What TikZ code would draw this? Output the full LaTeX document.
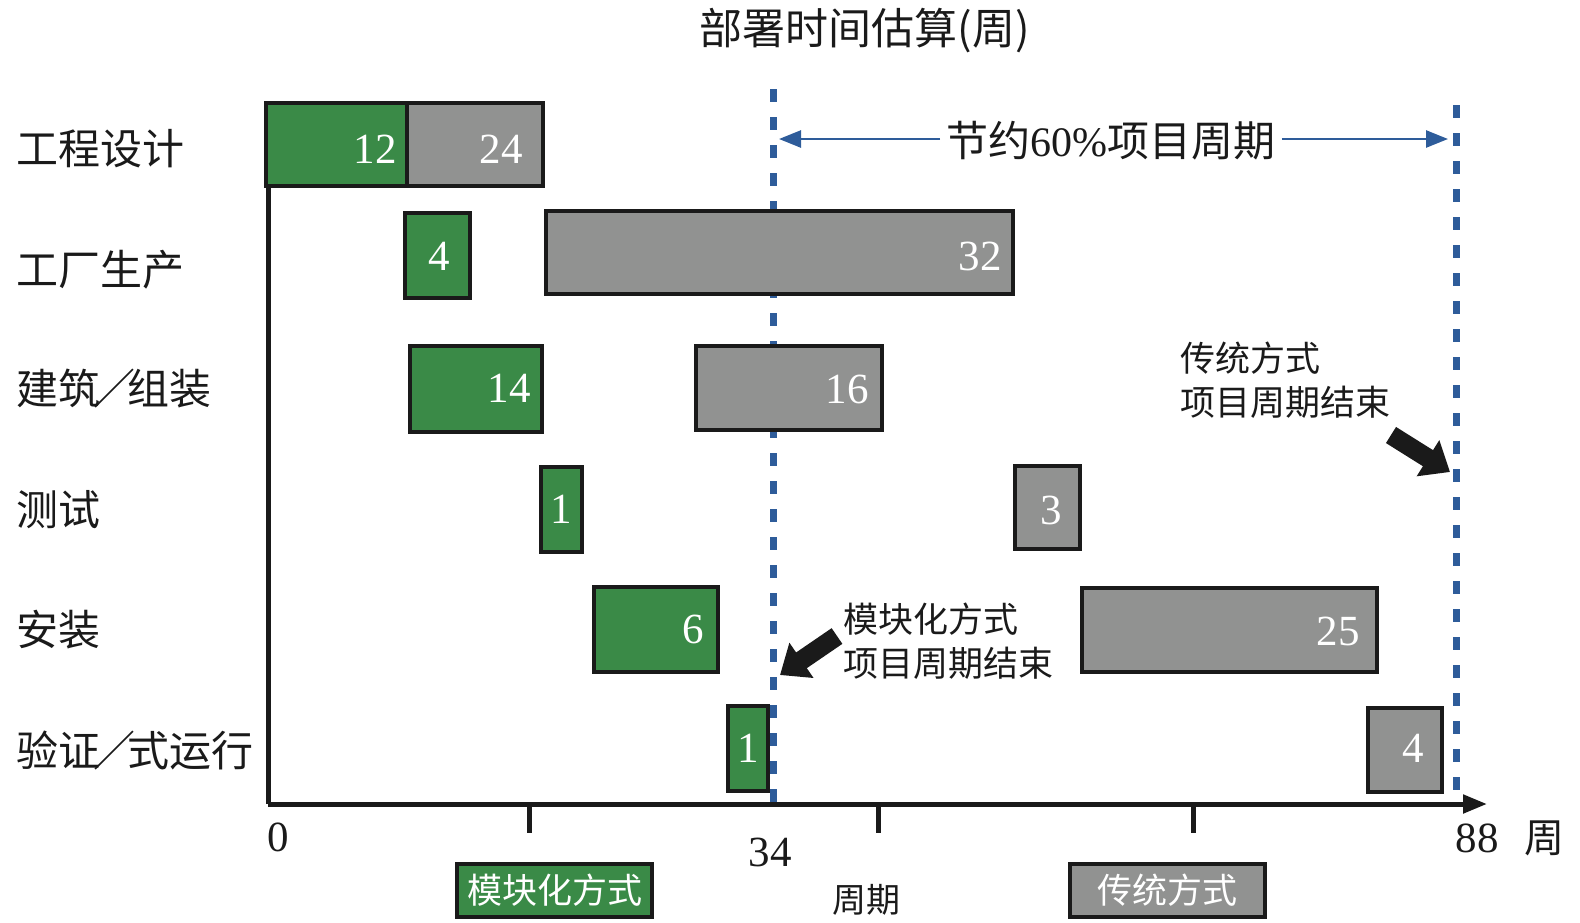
\documentclass[tikz,border=0pt]{standalone}
\usepackage{fontspec}
\setmainfont{Liberation Serif}
\newfontfamily\cjk{Noto Sans CJK SC}
\usetikzlibrary{arrows.meta,fit}
\definecolor{mgreen}{RGB}{58,138,71}
\definecolor{tgray}{RGB}{145,146,145}
\definecolor{dblue}{RGB}{46,92,154}
\definecolor{bord}{RGB}{26,26,26}
\newcommand{\nslash}{\makebox[0.65em][c]{／}}
\begin{document}
\begin{tikzpicture}[x=0.5pt,y=-0.5pt,
  gbox/.style={draw=bord, line width=1.6pt, fill=mgreen, inner sep=0pt},
  tbox/.style={draw=bord, line width=1.6pt, fill=tgray, inner sep=0pt},
  num/.style={text=white, font=\fontsize{21.5pt}{24pt}\selectfont, inner sep=0pt},
  axnum/.style={text=bord, font=\fontsize{21.5pt}{24pt}\selectfont, inner sep=0pt},
  rowlab/.style={anchor=west, text=bord, font=\cjk\fontsize{21pt}{24pt}\selectfont, inner sep=0pt},
  note/.style={anchor=west, align=left, text=bord, font=\cjk\fontsize{17.5pt}{22pt}\selectfont, inner sep=0pt},
  legtext/.style={text=white, font=\cjk\fontsize{17.5pt}{22pt}\selectfont, inner sep=0pt},
  axisline/.style={draw=bord, line width=2.5pt},
  vdash/.style={draw=dblue, line width=3.5pt, dash pattern=on 6.5pt off 7.5pt},
  barrow/.style={draw=dblue, line width=1.3pt, -{Triangle[length=11pt,width=8.5pt]}},
  bigarrow/.style={draw=bord, line width=9.5pt, -{Triangle[length=13pt,width=20.5pt]}}
]
\useasboundingbox (0,0) rectangle (1580,922);

% title
\node[text=bord, font=\cjk\fontsize{21.5pt}{24pt}\selectfont, inner sep=0pt] (title) at (865,31) {部署时间估算(周)};

% row labels
\node[rowlab] (r1) at (16,149) {工程设计};
\node[rowlab] (r2) at (16,270) {工厂生产};
\node[rowlab] (r3) at (16,389) {建筑\nslash 组装};
\node[rowlab] (r4) at (16,510) {测试};
\node[rowlab] (r5) at (16,630) {安装};
\node[rowlab] (r6) at (16,751) {验证\nslash 式运行};

% dashed lines
\coordinate (d1t) at (773,89);
\coordinate (d1b) at (773,815);
\coordinate (d2t) at (1456,105);
\coordinate (d2b) at (1456,804);
\draw[vdash] (d1t) -- (d1b);
\draw[vdash] (d2t) -- (d2b);

% axes
\coordinate (o) at (268,804);
\coordinate (ytop) at (268,186);
\coordinate (xend) at (1487,804);
\draw[axisline] (ytop) -- (o);
\draw[axisline, -{Triangle[length=12pt,width=9pt]}] (o) -- (xend);
\coordinate (t1a) at (529,804); \coordinate (t1b) at (529,833);
\coordinate (t2a) at (878,804); \coordinate (t2b) at (878,833);
\coordinate (t3a) at (1193,804); \coordinate (t3b) at (1193,833);
\draw[axisline] (t1a) -- (t1b);
\draw[axisline] (t2a) -- (t2b);
\draw[axisline] (t3a) -- (t3b);

% bars
\node[gbox, fit={(266,103)(407,186)}] (g1) {};
\node[tbox, fit={(407,103)(543,186)}] (t1) {};
\node[gbox, fit={(405,213)(470,298)}] (g2) {};
\node[tbox, fit={(546,211)(1013,294)}] (t2) {};
\node[gbox, fit={(410,346)(542,432)}] (g3) {};
\node[tbox, fit={(696,346)(882,430)}] (t3) {};
\node[gbox, fit={(541,467)(582,552)}] (g4) {};
\node[tbox, fit={(1015,466)(1080,549)}] (t4) {};
\node[gbox, fit={(594,587)(718,672)}] (g5) {};
\node[tbox, fit={(1082,588)(1377,672)}] (t5) {};
\node[gbox, fit={(728,706)(768,791)}] (g6) {};
\node[tbox, fit={(1368,708)(1442,792)}] (t6) {};

% bar numbers
\node[num] (n12) at (375,149) {12};
\node[num] (n24) at (501,149) {24};
\node[num] (n4a) at (439,256) {4};
\node[num] (n32) at (980,256) {32};
\node[num] (n14) at (509,388) {14};
\node[num] (n16) at (847,389) {16};
\node[num] (n1a) at (561,509) {1};
\node[num] (n3) at (1051,510) {3};
\node[num] (n6) at (693,629) {6};
\node[num] (n25) at (1338,631) {25};
\node[num] (n1b) at (748,748) {1};
\node[num] (n4b) at (1413,748) {4};

% saving arrow
\node[text=bord, font=\cjk\fontsize{21pt}{24pt}\selectfont, inner sep=3pt] (save) at (1111,141) {节约{\rmfamily 60\%}项目周期};
\coordinate (sl) at (779,139);
\coordinate (sr) at (1448,139);
\draw[barrow] (save.west |- sl) -- (sl);
\draw[barrow] (save.east |- sr) -- (sr);

% annotations
\node[note] (tradnote) at (1180,380) {传统方式\\项目周期结束};
\coordinate (ta) at (1391,435);
\coordinate (tb) at (1450,472);
\draw[bigarrow] (ta) -- (tb);
\node[note] (modnote) at (843,641) {模块化方式\\项目周期结束};
\coordinate (ma) at (837,636);
\coordinate (mb) at (780,675);
\draw[bigarrow] (ma) -- (mb);

% axis labels
\node[axnum] (l0) at (278,837) {0};
\node[axnum] (l34) at (770,852) {34};
\node[axnum] (l88) at (1477,838) {88};
\node[text=bord, font=\cjk\fontsize{20pt}{24pt}\selectfont, inner sep=0pt] (lweek) at (1544,838) {周};
\node[text=bord, font=\cjk\fontsize{17pt}{22pt}\selectfont, inner sep=0pt] (lperiod) at (866,900) {周期};

% legend
\node[gbox, fit={(457,864)(652,917)}] (leg1) {};
\node[legtext] (leg1t) at (leg1.center) {模块化方式};
\node[tbox, fit={(1070,864)(1265,917)}] (leg2) {};
\node[legtext] (leg2t) at (leg2.center) {传统方式};
\end{tikzpicture}
\end{document}
